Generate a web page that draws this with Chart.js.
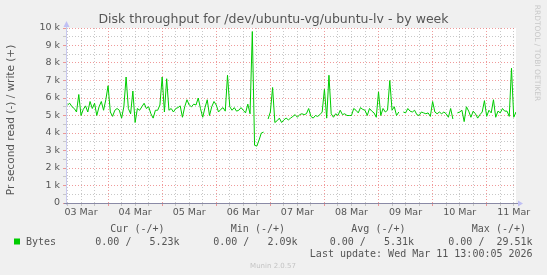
<!DOCTYPE html>
<html>
<head>
<meta charset="utf-8">
<script src="https://cdn.jsdelivr.net/npm/chart.js@4/dist/chart.umd.min.js"></script>
<style>
  html, body { margin: 0; padding: 0; background: #F0F0F0; }
  #wrap { width: 547px; height: 275px; }
</style>
</head>
<body>
<div id="wrap"><canvas id="diskChart" width="547" height="275"></canvas></div>
<script>
// hours counted from 03 Mar 00:00, one reading per hour
const firstHour = 6;
const startHour = 5.33;
const endHour = 205;

// write throughput in k bytes per second (null = no data)
const writeK = [
  5.6, 5.7, 5.5, 5.4, 5.2, 6.2, 5.0, 5.35, 5.55, 5.2,
  5.8, 5.4, 5.7, 5.0, 5.5, 5.8, 5.3, 5.9, 6.7, 5.2,
  4.95, 5.3, 5.4, 5.3, 4.85, 5.5, 7.2, 5.4, 5.1, 6.4,
  4.6, 5.4, 5.3, 5.5, 5.7, 5.4, 5.5, 5.1, 4.85, 5.3,
  5.3, 5.6, 7.2, 5.2, 7.1, 5.3, 5.4, 5.2, 5.4, 5.45,
  5.55, 4.9, 5.5, 5.9, 5.6, 5.5, 5.65, 5.6, 6.0, 5.4,
  4.9, 5.45, 5.9, 5.0, 5.5, 5.8, 5.6, 5.2, 5.35, 5.45,
  5.25, 7.3, 5.5, 5.3, 5.45, 5.25, 5.3, 5.45, 5.3, 5.15,
  5.65, 5.1, 9.8, 3.3, 3.25, 3.6, 4.0, 4.05, null, 4.8,
  5.2, 6.6, 4.6, 4.7, 4.85, 4.6, 4.75, 4.85, 4.75, 4.85,
  4.95, 5.05, 4.9, 5.05, 5.1, 5.05, 5.1, 5.4, 4.95, 4.85,
  5.0, 4.95, 5.05, 5.2, 6.5, 4.85, 7.3, 5.1, 4.9, 5.1,
  5.0, 5.3, 5.05, 5.1, 5.0, 5.0, 5.0, 5.4, 5.3, 5.15,
  5.45, 5.35, 5.3, 5.0, 5.4, 5.25, 5.15, 4.9, 6.35, 5.0,
  5.4, 5.2, 5.3, 7.0, 5.3, 5.5, 5.0, 5.2, null, 5.2,
  5.15, 5.4, 5.25, 5.2, 5.3, 5.05, 5.0, 5.2, 5.15, 5.1,
  5.15, 4.95, 5.8, 5.2, 5.1, 5.2, 5.1, 5.2, 5.1, 4.9,
  5.4, 4.8, null, 5.15, 5.2, 5.3, 4.65, 5.5, 5.25, 4.9,
  5.25, 5.1, 4.85, 5.05, 5.2, 5.85, 4.95, 5.3, 5.15, 5.9,
  4.9, 5.25, 5.15, 5.4, 5.25, 5.25, 4.95, 7.7, 4.9, 5.2
];

const dayLabels = ['03 Mar', '04 Mar', '05 Mar', '06 Mar', '07 Mar', '08 Mar', '09 Mar', '10 Mar', '11 Mar'];

const legendHeads = ['Cur (-/+)', 'Min (-/+)', 'Avg (-/+)', 'Max (-/+)'];
const legendValues = ['0.00 /   5.23k', '0.00 /   2.09k', '0.00 /   5.31k', '0.00 /  29.51k'];
const seriesName = 'Bytes';
const lastUpdate = 'Last update: Wed Mar 11 13:00:05 2026';

const points = writeK.map((v, i) => ({ x: firstHour + i, y: v }));

const majorColor = 'rgba(235, 120, 120, 0.75)';
const minorColor = 'rgba(190, 190, 190, 0.85)';
const textColor = '#555';

// munin look: grey page, white plot, arrows and legend text
const muninFrame = {
  id: 'muninFrame',
  beforeDraw(chart) {
    const { ctx, chartArea: a } = chart;
    ctx.save();
    ctx.fillStyle = '#F0F0F0';
    ctx.fillRect(0, 0, chart.width, chart.height);
    ctx.fillStyle = '#FFFFFF';
    ctx.fillRect(a.left, a.top, a.right - a.left, a.bottom - a.top);
    ctx.restore();
  },
  afterDraw(chart) {
    const { ctx, chartArea: a } = chart;
    ctx.save();

    // axes
    ctx.lineWidth = 1;
    ctx.strokeStyle = '#c8c8ee';
    ctx.beginPath();
    ctx.moveTo(a.left + 0.5, a.bottom + 2);
    ctx.lineTo(a.left + 0.5, a.top - 4);
    ctx.stroke();
    ctx.strokeStyle = '#8a8aa6';
    ctx.beginPath();
    ctx.moveTo(a.left - 2, a.bottom + 0.5);
    ctx.lineTo(a.right + 3, a.bottom + 0.5);
    ctx.stroke();

    // arrows
    ctx.fillStyle = '#c0c0f4';
    ctx.beginPath();
    ctx.moveTo(a.left + 0.5, a.top - 7);
    ctx.lineTo(a.left - 2.5, a.top - 1);
    ctx.lineTo(a.left + 3.5, a.top - 1);
    ctx.closePath();
    ctx.fill();
    ctx.beginPath();
    ctx.moveTo(a.right + 7, a.bottom + 0.5);
    ctx.lineTo(a.right + 2, a.bottom - 2.5);
    ctx.lineTo(a.right + 2, a.bottom + 3.5);
    ctx.closePath();
    ctx.fill();

    // title
    ctx.fillStyle = textColor;
    ctx.textBaseline = 'middle';
    ctx.textAlign = 'center';
    ctx.font = '12.5px "DejaVu Sans"';
    ctx.fillText('Disk throughput for /dev/ubuntu-vg/ubuntu-lv - by week', 273.5, 19.5);

    // y title
    ctx.save();
    ctx.translate(11.5, 120);
    ctx.rotate(-Math.PI / 2);
    ctx.font = '10.5px "DejaVu Sans"';
    ctx.fillText('Pr second read (-) / write (+)', 0, 0);
    ctx.restore();

    // rrdtool credit
    ctx.save();
    ctx.translate(537, 53);
    ctx.rotate(Math.PI / 2);
    ctx.fillStyle = '#c8c8c8';
    ctx.font = '7.5px "DejaVu Sans"';
    ctx.fillText('RRDTOOL / TOBI OETIKER', 0, 0);
    ctx.restore();

    // legend
    ctx.font = '10px "DejaVu Sans Mono"';
    ctx.fillStyle = textColor;
    ctx.textAlign = 'right';
    const headEnds = [164.5, 285, 405.5, 526];
    const valEnds = [179.6, 297.5, 414, 532.6];
    legendHeads.forEach((t, i) => ctx.fillText(t, headEnds[i], 229));
    legendValues.forEach((t, i) => ctx.fillText(t, valEnds[i], 242));
    ctx.fillText(lastUpdate, 532.6, 254.5);
    ctx.textAlign = 'left';
    ctx.fillText(seriesName, 26, 242);
    ctx.fillStyle = '#00CC00';
    ctx.fillRect(14, 238.5, 6, 6);

    ctx.textAlign = 'center';
    ctx.fillStyle = '#c4c4c4';
    ctx.font = '7px "DejaVu Sans"';
    ctx.fillText('Munin 2.0.57', 273, 266.5);
    ctx.restore();
  }
};

new Chart(document.getElementById('diskChart'), {
  type: 'line',
  data: {
    datasets: [{
      label: seriesName,
      data: points,
      borderColor: '#00CC00',
      borderWidth: 1,
      pointRadius: 0,
      tension: 0,
      spanGaps: false
    }]
  },
  options: {
    responsive: false,
    animation: false,
    layout: { padding: { top: 28, right: 31, left: 0, bottom: 0 } },
    plugins: {
      legend: { display: false },
      title: { display: false },
      tooltip: { enabled: false }
    },
    scales: {
      x: {
        type: 'linear',
        min: startHour,
        max: endHour,
        afterFit: s => { s.height = 72; },
        afterBuildTicks: s => {
          const t = [];
          for (let h = 6; h <= 204; h += 6) t.push({ value: h });
          s.ticks = t;
        },
        ticks: {
          autoSkip: false,
          maxRotation: 0,
          padding: 1,
          color: textColor,
          font: { family: 'DejaVu Sans', size: 9.5 },
          callback: v => (v % 24 === 12 ? dayLabels[(v - 12) / 24] : '')
        },
        grid: {
          color: c => (c.tick && c.tick.value % 24 === 0 ? majorColor : minorColor),
          tickColor: c => (c.tick && c.tick.value % 24 === 0 ? majorColor : minorColor),
          tickLength: 3
        },
        border: { display: false, dash: [1, 2] }
      },
      y: {
        min: 0,
        max: 10,
        afterFit: s => { s.width = 66; },
        ticks: {
          stepSize: 0.5,
          autoSkip: false,
          padding: 3,
          color: textColor,
          font: { family: 'DejaVu Sans', size: 9.5 },
          callback: v => (v % 1 ? '' : (v ? v + ' k' : '0'))
        },
        grid: {
          color: c => (c.tick && c.tick.value % 1 === 0 ? majorColor : minorColor),
          tickColor: c => (c.tick && c.tick.value % 1 === 0 ? majorColor : minorColor),
          tickLength: 3
        },
        border: { display: false, dash: [1, 2] }
      }
    }
  },
  plugins: [muninFrame]
});
</script>
</body>
</html>
